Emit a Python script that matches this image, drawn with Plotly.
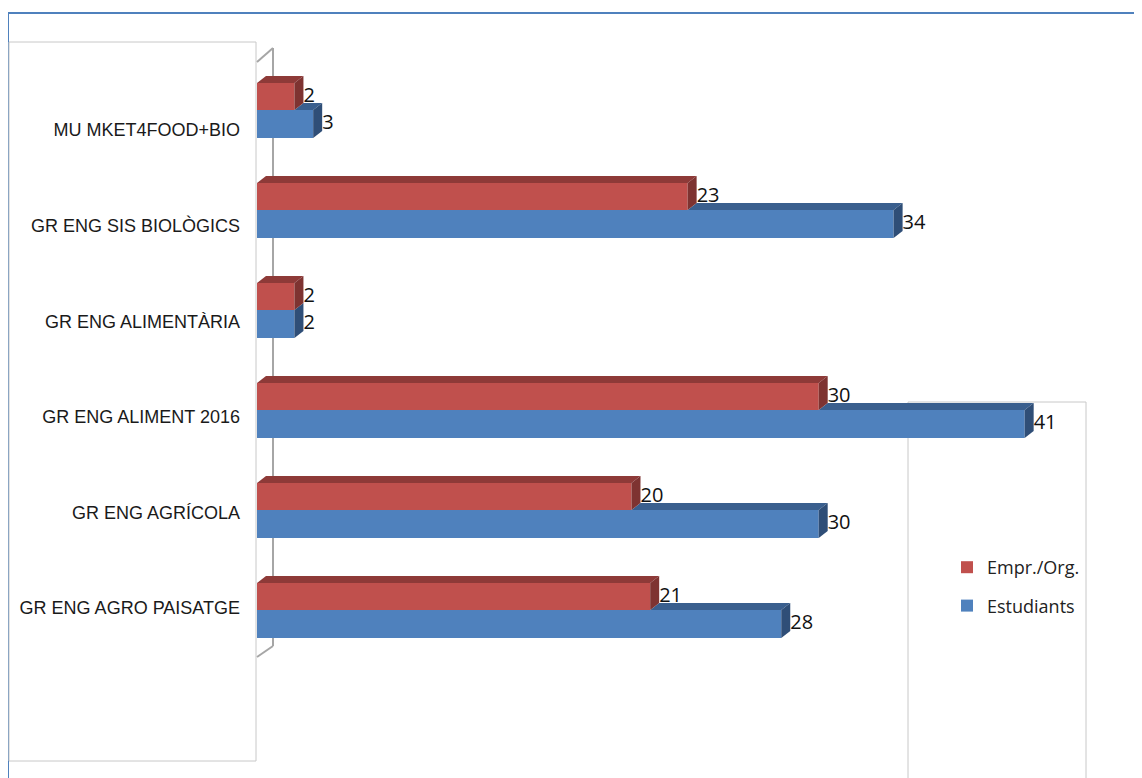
import plotly.graph_objects as go

categories = ["MU MKET4FOOD+BIO", "GR ENG SIS BIOLÒGICS", "GR ENG ALIMENTÀRIA",
              "GR ENG ALIMENT 2016", "GR ENG AGRÍCOLA", "GR ENG AGRO PAISATGE"]
empr_org = [2, 23, 2, 30, 20, 21]
estudiants = [3, 34, 2, 41, 30, 28]

RED, RED_TOP, RED_SIDE = "#C0504D", "#8E3A38", "#7E3331"
BLUE, BLUE_TOP, BLUE_SIDE = "#4F81BD", "#3A5F8E", "#2F4E77"

# page body margin offset
OX, OY = 8, 8
W, H = 1142 - OX, 778 - OY
ML, MR, MT, MB = 257 - OX, 5, 60 - OY, 118
XMAX = 47
PW, PH = W - ML - MR, H - MT - MB
DX = 9 * XMAX / PW     # depth in x units
DY = 7 * 6 / PH        # depth in y units
RW, BW = 0.27, 0.28

ys = list(range(len(categories)))

fig = go.Figure()

def poly(xs, yv, color):
    fig.add_trace(go.Scatter(x=xs + [xs[0]], y=yv + [yv[0]], mode="lines",
                             fill="toself", fillcolor=color, line=dict(width=0, color=color),
                             hoverinfo="skip", showlegend=False))

fig.add_trace(go.Bar(y=ys, x=estudiants, orientation="h", width=BW, offset=0,
                     marker=dict(color=BLUE, line=dict(width=0)), name="Estudiants",
                     legendgroup="b", legendrank=2))
fig.add_trace(go.Bar(y=ys, x=empr_org, orientation="h", width=RW, offset=-RW,
                     marker=dict(color=RED, line=dict(width=0)), name="Empr./Org.",
                     legendgroup="a", legendrank=1))

for i, (r, b) in enumerate(zip(empr_org, estudiants)):
    c = i
    poly([r, b, b + DX, r + DX], [c, c, c - DY, c - DY], BLUE_TOP)
    poly([b, b + DX, b + DX, b], [c, c - DY, c + BW - DY, c + BW], BLUE_SIDE)
    t = c - RW
    poly([0, r, r + DX, DX], [t, t, t - DY, t - DY], RED_TOP)
    poly([r, r + DX, r + DX, r], [t, t - DY, c - DY, c], RED_SIDE)

lab_font = dict(family="Open Sans, Liberation Sans, sans-serif", size=20, color="#111")
fig.add_trace(go.Scatter(x=[v + DX for v in empr_org], y=[i - RW / 2 for i in ys],
                         mode="text", text=[str(v) for v in empr_org],
                         textposition="middle right", textfont=lab_font,
                         hoverinfo="skip", showlegend=False))
fig.add_trace(go.Scatter(x=[v + DX for v in estudiants], y=[i + BW / 2 for i in ys],
                         mode="text", text=[str(v) for v in estudiants],
                         textposition="middle right", textfont=lab_font,
                         hoverinfo="skip", showlegend=False))

def px(X):
    return (X - OX - ML) / PW

def py(Y):
    return (H - MB - (Y - OY)) / PH

grey = "#A6A6A6"
shapes = [
    dict(type="line", x0=px(8), x1=px(1160), y0=py(13), y1=py(13), line=dict(color="#4F81BD", width=2)),
    dict(type="line", x0=px(8), x1=px(8), y0=py(13), y1=py(800), line=dict(color="#4F81BD", width=2)),
    dict(type="rect", x0=px(9), x1=px(256), y0=py(42), y1=py(761), line=dict(color="#C8C8C8", width=1)),
    dict(type="rect", x0=px(908), x1=px(1086), y0=py(402), y1=py(820), line=dict(color="#C8C8C8", width=1)),
    dict(type="line", x0=px(257), x1=px(273), y0=py(62), y1=py(48), line=dict(color=grey, width=2)),
    dict(type="line", x0=px(273), x1=px(273), y0=py(48), y1=py(646), line=dict(color=grey, width=2)),
    dict(type="line", x0=px(273), x1=px(257), y0=py(646), y1=py(657), line=dict(color=grey, width=2)),
]
for s in shapes:
    s.update(xref="paper", yref="paper", layer="below")

tick_pos = [i * 0.956 + 0.2 for i in ys]

fig.update_layout(
    width=W, height=H, margin=dict(l=ML, r=MR, t=MT, b=MB, autoexpand=False),
    paper_bgcolor="white", plot_bgcolor="white",
    barmode="overlay", shapes=shapes,
    xaxis=dict(range=[0, XMAX], visible=False, automargin=False),
    yaxis=dict(range=[5.5, -0.5], tickvals=tick_pos, ticktext=categories,
               showgrid=False, zeroline=False, showline=False, ticks="",
               ticklabelstandoff=16, automargin=False,
               tickfont=dict(family="Liberation Sans, Arial, sans-serif",
                             size=18, color="#1a1a1a")),
    legend=dict(x=px(947), y=py(549), xanchor="left", yanchor="top",
                traceorder="grouped", tracegroupgap=12,
                font=dict(family="Open Sans, Liberation Sans, sans-serif", size=18, color="#222"),
                bgcolor="rgba(0,0,0,0)"),
    showlegend=True,
)

fig.write_html("out.html")
